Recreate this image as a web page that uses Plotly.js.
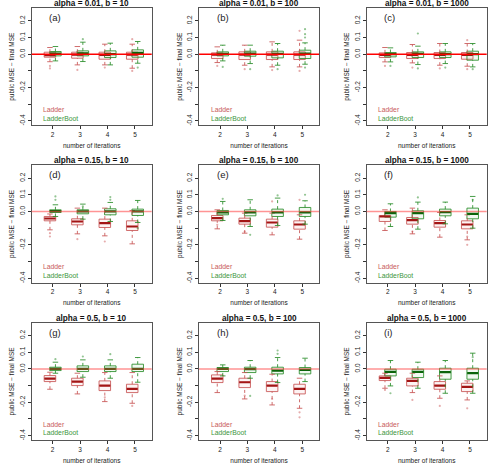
<!DOCTYPE html>
<html>
<head>
<meta charset="utf-8">
<script src="https://cdn.plot.ly/plotly-3.0.1.min.js"></script>
<style>
  html, body { margin: 0; padding: 0; background: #fff; }
  #chart { width: 502px; height: 472px; }
</style>
</head>
<body>
<div id="chart"></div>
<script>
const iterations = [2, 3, 4, 5];

const panelTitles = [
  'alpha = 0.01, b = 10', 'alpha = 0.01, b = 100', 'alpha = 0.01, b = 1000',
  'alpha = 0.15, b = 10', 'alpha = 0.15, b = 100', 'alpha = 0.15, b = 1000',
  'alpha = 0.5, b = 10', 'alpha = 0.5, b = 100', 'alpha = 0.5, b = 1000'
];
const panelTags = ['(a)', '(b)', '(c)', '(d)', '(e)', '(f)', '(g)', '(h)', '(i)'];

// box stats per iteration: [lower whisker, q1, median, q3, upper whisker]
const ladderA = [[-0.045, -0.018, -0.005, 0.012, 0.04], [-0.064, -0.024, -0.003, 0.012, 0.046], [-0.064, -0.03, -0.004, 0.012, 0.06], [-0.084, -0.03, -0.003, 0.012, 0.06]];
const bootA = [[-0.04, -0.01, 0.004, 0.016, 0.046], [-0.044, -0.01, 0.005, 0.02, 0.072], [-0.064, -0.02, 0.0, 0.02, 0.066], [-0.054, -0.018, 0.008, 0.026, 0.076]];
const ladderB = [[-0.05, -0.026, -0.003, 0.008, 0.044], [-0.066, -0.032, -0.002, 0.014, 0.054], [-0.076, -0.032, -0.002, 0.014, 0.074], [-0.076, -0.032, -0.002, 0.014, 0.084]];
const bootB = [[-0.04, -0.01, 0.002, 0.014, 0.054], [-0.056, -0.012, 0.004, 0.018, 0.054], [-0.066, -0.022, 0.002, 0.018, 0.064], [-0.06, -0.026, 0.004, 0.024, 0.068]];
const ladderC = [[-0.046, -0.02, -0.004, 0.008, 0.04], [-0.052, -0.026, -0.004, 0.01, 0.058], [-0.066, -0.026, -0.004, 0.01, 0.064], [-0.072, -0.03, -0.004, 0.01, 0.064]];
const bootC = [[-0.046, -0.016, 0.0, 0.01, 0.038], [-0.062, -0.02, 0.002, 0.014, 0.048], [-0.056, -0.02, 0.0, 0.014, 0.064], [-0.076, -0.036, 0.0, 0.018, 0.064]];
const ladderD = [[-0.11, -0.056, -0.042, -0.03, -0.015], [-0.134, -0.08, -0.06, -0.044, 0.02], [-0.146, -0.096, -0.07, -0.046, 0.02], [-0.194, -0.114, -0.09, -0.056, 0.006]];
const bootD = [[-0.03, -0.006, 0.002, 0.01, 0.04], [-0.046, -0.014, 0.0, 0.01, 0.044], [-0.06, -0.02, 0.0, 0.016, 0.054], [-0.066, -0.024, 0.0, 0.014, 0.066]];
const ladderE = [[-0.104, -0.056, -0.04, -0.024, 0.01], [-0.13, -0.076, -0.058, -0.04, -0.01], [-0.14, -0.094, -0.066, -0.046, -0.01], [-0.166, -0.106, -0.078, -0.056, -0.02]];
const bootE = [[-0.054, -0.02, -0.006, 0.006, 0.06], [-0.09, -0.026, -0.006, 0.01, 0.07], [-0.084, -0.03, -0.006, 0.014, 0.08], [-0.076, -0.03, -0.006, 0.024, 0.064]];
const ladderF = [[-0.114, -0.06, -0.03, -0.024, 0.01], [-0.134, -0.076, -0.052, -0.036, 0.02], [-0.154, -0.094, -0.07, -0.054, -0.006], [-0.17, -0.104, -0.078, -0.056, -0.02]];
const bootF = [[-0.09, -0.034, -0.01, 0.0, 0.046], [-0.106, -0.044, -0.01, 0.004, 0.056], [-0.074, -0.026, -0.004, 0.014, 0.056], [-0.1, -0.044, -0.014, 0.02, 0.09]];
const ladderG = [[-0.122, -0.076, -0.058, -0.04, -0.02], [-0.15, -0.1, -0.076, -0.056, -0.026], [-0.196, -0.13, -0.1, -0.072, -0.022], [-0.206, -0.142, -0.12, -0.092, -0.022]];
const bootG = [[-0.026, -0.01, 0.0, 0.01, 0.04], [-0.05, -0.016, 0.0, 0.018, 0.054], [-0.056, -0.016, 0.0, 0.018, 0.054], [-0.08, -0.016, 0.0, 0.028, 0.068]];
const ladderH = [[-0.142, -0.082, -0.058, -0.036, -0.016], [-0.18, -0.112, -0.08, -0.056, -0.022], [-0.216, -0.136, -0.1, -0.076, -0.032], [-0.236, -0.15, -0.12, -0.092, -0.056]];
const bootH = [[-0.042, -0.016, 0.0, 0.008, 0.024], [-0.056, -0.022, -0.002, 0.01, 0.05], [-0.082, -0.03, -0.01, 0.01, 0.068], [-0.076, -0.03, -0.006, 0.008, 0.064]];
const ladderI = [[-0.116, -0.07, -0.054, -0.042, -0.026], [-0.142, -0.102, -0.072, -0.056, -0.026], [-0.176, -0.122, -0.1, -0.076, -0.042], [-0.186, -0.136, -0.108, -0.086, -0.072]];
const bootI = [[-0.102, -0.042, -0.018, -0.002, 0.05], [-0.116, -0.052, -0.018, -0.002, 0.04], [-0.146, -0.062, -0.02, 0.004, 0.05], [-0.146, -0.062, -0.026, 0.004, 0.094]];

// outlying points per iteration
const ladderOutA = [[-0.07, -0.085], [-0.094], [-0.08], [0.09, -0.1]];
const bootOutA = [[], [0.09], [], [-0.08]];
const ladderOutB = [[-0.07], [-0.09], [-0.095], [0.14, -0.1]];
const bootOutB = [[-0.076], [-0.09], [-0.09], [0.15, 0.12, 0.1, -0.08]];
const ladderOutC = [[-0.07], [-0.08], [-0.085], [0.084, -0.09]];
const bootOutC = [[-0.07], [0.124, -0.085], [-0.08], [-0.09]];
const ladderOutD = [[-0.13, -0.15], [-0.166], [-0.18], []];
const bootOutD = [[0.09, 0.07], [0.03], [0.086, 0.07], [-0.1]];
const ladderOutE = [[-0.08], [-0.12], [0.06], [0.07]];
const bootOutE = [[0.076], [-0.14], [0.096], [0.1]];
const ladderOutF = [[], [-0.12], [], [-0.2, -0.15]];
const bootOutF = [[], [0.084], [], [0.07]];
const ladderOutG = [[], [], [-0.17], [-0.222]];
const bootOutG = [[0.058], [0.074], [0.088], []];
const ladderOutH = [[], [-0.16], [-0.18], [-0.26, -0.29]];
const bootOutH = [[], [-0.162], [0.11, 0.09], []];
const ladderOutI = [[-0.126], [-0.186], [-0.222], [-0.236]];
const bootOutI = [[-0.146], [], [], [0.07]];

const ladderStats = [ladderA, ladderB, ladderC, ladderD, ladderE, ladderF, ladderG, ladderH, ladderI];
const bootStats = [bootA, bootB, bootC, bootD, bootE, bootF, bootG, bootH, bootI];
const ladderOuts = [ladderOutA, ladderOutB, ladderOutC, ladderOutD, ladderOutE, ladderOutF, ladderOutG, ladderOutH, ladderOutI];
const bootOuts = [bootOutA, bootOutB, bootOutC, bootOutD, bootOutE, bootOutF, bootOutG, bootOutH, bootOutI];

const colDomains = [[0.0631, 0.3022], [0.3964, 0.6355], [0.7305, 0.9695]];
const rowDomains = [[0.7345, 0.9828], [0.4013, 0.6496], [0.0678, 0.3161]];

const red = { line: 'rgba(200,85,85,0.85)', fill: 'rgba(235,160,160,0.12)', med: '#a31515', pt: 'rgba(200,70,70,0.45)', text: '#c85a5a' };
const green = { line: 'rgba(40,140,40,0.85)', fill: 'rgba(140,205,140,0.12)', med: '#0a640a', pt: 'rgba(40,140,40,0.5)', text: '#3c963c' };

const traces = [];
const layout = {
  width: 502, height: 472,
  margin: { l: 0, r: 0, t: 0, b: 0 },
  paper_bgcolor: '#fff', plot_bgcolor: '#fff',
  showlegend: false,
  font: { family: 'Liberation Sans, Arial, sans-serif', color: '#222' },
  shapes: [], annotations: []
};

function addGroup(stats, outs, shift, col, xa, ya) {
  const xs = iterations.map(v => v + shift);
  const q1 = stats.map(s => s[1]);
  const q3 = stats.map(s => s[3]);
  traces.push({
    type: 'box', x: xs, q1: q1, median: stats.map(s => s[2]), q3: q3,
    lowerfence: q1, upperfence: q3, width: 0.42, whiskerwidth: 0,
    boxpoints: false, line: { color: col.line, width: 1 }, fillcolor: col.fill,
    hoverinfo: 'skip', xaxis: xa, yaxis: ya
  });
  // dashed whiskers, staples, thick medians, outliers
  const wx = [], wy = [], sx = [], sy = [], mx = [], my = [], ox = [], oy = [];
  stats.forEach((s, i) => {
    const x = xs[i];
    wx.push(x, x, null, x, x, null);
    wy.push(s[0], s[1], null, s[3], s[4], null);
    sx.push(x - 0.1, x + 0.1, null, x - 0.1, x + 0.1, null);
    sy.push(s[0], s[0], null, s[4], s[4], null);
    mx.push(x - 0.2, x + 0.2, null);
    my.push(s[2], s[2], null);
    outs[i].forEach(v => { ox.push(x); oy.push(v); });
  });
  traces.push({ type: 'scatter', mode: 'lines', x: wx, y: wy, line: { color: col.line, width: 1, dash: 'dot' }, hoverinfo: 'skip', xaxis: xa, yaxis: ya });
  traces.push({ type: 'scatter', mode: 'lines', x: sx, y: sy, line: { color: col.line, width: 1 }, hoverinfo: 'skip', xaxis: xa, yaxis: ya });
  traces.push({ type: 'scatter', mode: 'lines', x: mx, y: my, line: { color: col.med, width: 2.2 }, hoverinfo: 'skip', xaxis: xa, yaxis: ya });
  traces.push({ type: 'scatter', mode: 'markers', x: ox, y: oy, marker: { color: col.pt, size: 2.2 }, hoverinfo: 'skip', xaxis: xa, yaxis: ya });
}

panelTitles.forEach((title, p) => {
  const n = p + 1;
  const row = Math.floor(p / 3), c = p % 3;
  const xa = n === 1 ? 'x' : 'x' + n;
  const ya = n === 1 ? 'y' : 'y' + n;
  const xk = n === 1 ? 'xaxis' : 'xaxis' + n;
  const yk = n === 1 ? 'yaxis' : 'yaxis' + n;

  layout[xk] = {
    domain: colDomains[c], anchor: ya, range: [1.234, 5.61],
    tickvals: iterations, ticktext: iterations.map(String),
    ticks: 'outside', ticklen: 3, tickcolor: '#333', tickfont: { size: 6.5, color: '#222' },
    showline: true, mirror: true, linecolor: '#555', linewidth: 1,
    showgrid: false, zeroline: false, fixedrange: true,
    title: { text: 'number of iterations', font: { size: 6.5, color: '#222' }, standoff: 6 }
  };
  layout[yk] = {
    domain: rowDomains[row], anchor: xa, range: [-0.426, 0.276],
    tickvals: [-0.4, -0.3, -0.2, -0.1, 0, 0.1, 0.2],
    ticktext: ['-0.4', '', '-0.2', '', '0.0', '0.1', '0.2'],
    tickangle: -90,
    ticks: 'outside', ticklen: 3, tickcolor: '#333', tickfont: { size: 6.5, color: '#222' },
    showline: true, mirror: true, linecolor: '#555', linewidth: 1,
    showgrid: false, zeroline: false, fixedrange: true,
    title: { text: 'public MSE \u2212 final MSE', font: { size: 6.5, color: '#222' }, standoff: 3 }
  };

  addGroup(ladderStats[p], ladderOuts[p], -0.1, red, xa, ya);
  addGroup(bootStats[p], bootOuts[p], 0.1, green, xa, ya);

  layout.shapes.push({
    type: 'line', xref: xa + ' domain', x0: 0, x1: 1, yref: ya, y0: 0, y1: 0,
    line: { color: row === 0 ? 'rgba(255,0,0,1)' : 'rgba(255,60,60,0.55)', width: 1.5 }, layer: 'above'
  });

  layout.annotations.push({
    text: '<b>' + title + '</b>', xref: 'paper', yref: 'paper',
    x: (colDomains[c][0] + colDomains[c][1]) / 2, y: rowDomains[row][1],
    xanchor: 'center', yanchor: 'bottom', yshift: -2, showarrow: false,
    font: { size: 8.2, color: '#111' }
  });
  layout.annotations.push({
    text: panelTags[p], xref: xa + ' domain', yref: ya + ' domain', x: 0.13, y: 0.92,
    xanchor: 'left', yanchor: 'middle', showarrow: false, font: { size: 9.5, color: '#222' }
  });
  layout.annotations.push({
    text: 'Ladder', xref: xa + ' domain', yref: ya + ' domain', x: 0.08, y: 0.135,
    xanchor: 'left', yanchor: 'middle', showarrow: false, font: { size: 6.8, color: red.text }
  });
  layout.annotations.push({
    text: 'LadderBoot', xref: xa + ' domain', yref: ya + ' domain', x: 0.08, y: 0.06,
    xanchor: 'left', yanchor: 'middle', showarrow: false, font: { size: 6.8, color: green.text }
  });
});

Plotly.newPlot('chart', traces, layout, { staticPlot: true });
</script>
</body>
</html>
